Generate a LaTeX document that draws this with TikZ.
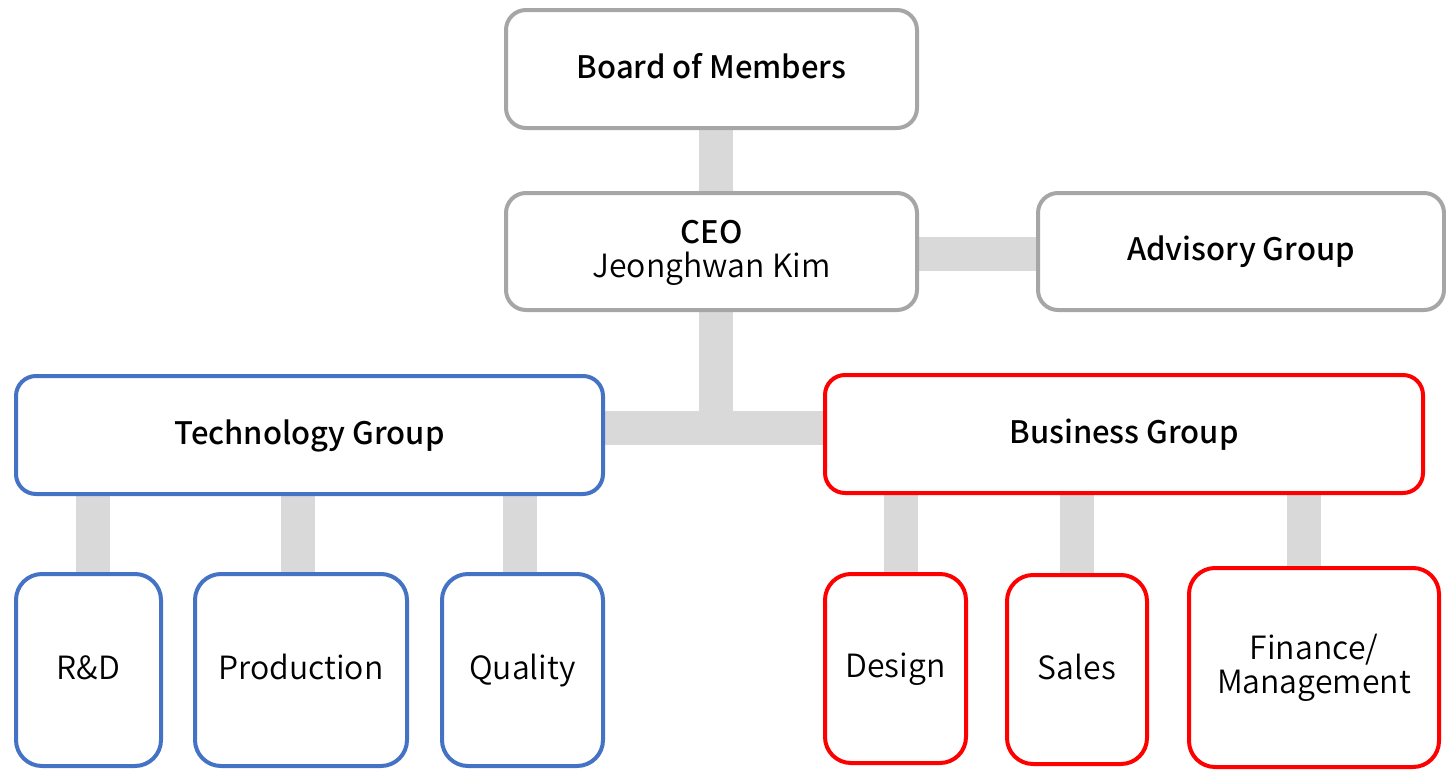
\documentclass[tikz,border=0pt]{standalone}
\usepackage{fontspec}
\setmainfont{Noto Sans CJK KR}
\newfontfamily\medfont{Noto Sans CJK KR Medium}
\newfontfamily\lightfont{Noto Sans CJK KR DemiLight}
\newcommand\mystrut{\vrule height 26pt depth 7pt width 0pt}
\usetikzlibrary{backgrounds}
\definecolor{graybd}{HTML}{A6A6A6}
\definecolor{bluebd}{HTML}{4472C4}
\definecolor{redbd}{HTML}{FF0000}
\definecolor{barcol}{HTML}{D9D9D9}
\tikzset{
  box/.style={draw, fill=white, line width=4pt, rounded corners=20pt, inner sep=0pt,
    align=center, font=\lightfont\fontsize{32}{34}\selectfont},
  headbox/.style={box, font=\medfont\fontsize{31}{34}\selectfont},
  kidbox/.style={box, rounded corners=26pt},
  bar/.style={draw=barcol, line width=34pt},
}
\begin{document}
\begin{tikzpicture}[x=1pt,y=-1pt]
\useasboundingbox (0,0) rectangle (1446,771);
% top level
\node[headbox, draw=graybd, minimum width=411, minimum height=118] (board) at (711.5,69) {\mystrut Board of Members};
\node[box, draw=graybd, minimum width=411, minimum height=117] (ceo) at (711.5,251.5) {\mystrut{\medfont\fontsize{31}{34}\selectfont CEO}\\\mystrut Jeonghwan Kim};
\node[headbox, draw=graybd, minimum width=406, minimum height=117] (adv) at (1241,251.5) {\mystrut Advisory Group};
% groups
\node[headbox, draw=bluebd, minimum width=587, minimum height=118] (tech) at (309.5,435) {\mystrut Technology Group};
\node[headbox, draw=redbd, minimum width=598, minimum height=118] (bus) at (1124,434) {\mystrut Business Group};
% children
\node[kidbox, draw=bluebd, minimum width=145, minimum height=192] (rd) at (88.5,670) {\mystrut R\&D};
\node[kidbox, draw=bluebd, minimum width=212, minimum height=192] (prod) at (301,670) {\mystrut Production};
\node[kidbox, draw=bluebd, minimum width=161, minimum height=192] (qual) at (522.5,670) {\mystrut Quality};
\node[kidbox, draw=redbd, minimum width=141, minimum height=189] (des) at (895.5,668.5) {\mystrut Design};
\node[kidbox, draw=redbd, minimum width=140, minimum height=189] (sales) at (1077,669.5) {\mystrut Sales};
\node[kidbox, draw=redbd, minimum width=250, minimum height=199] (fin) at (1314,667.5) {\mystrut Finance/\\\mystrut Management};
% connectors
\coordinate (j) at ([xshift=4.5pt, yshift=-116pt]ceo.south);
\begin{scope}[on background layer]
\draw[bar] ([xshift=4.5pt]board.south) -- ([xshift=4.5pt]ceo.north);
\draw[bar] ([yshift=-2.5pt]ceo.east) -- ([yshift=-2.5pt]ceo.east -| adv.west);
\draw[bar] ([xshift=4.5pt]ceo.south) -- (j);
\draw[bar] (tech.east |- j) -- (bus.west |- j);
\draw[bar] ([xshift=4.5pt]rd.north) -- ([xshift=4.5pt]rd.north |- tech.south);
\draw[bar] ([xshift=-3pt]prod.north) -- ([xshift=-3pt]prod.north |- tech.south);
\draw[bar] ([xshift=-2.5pt]qual.north) -- ([xshift=-2.5pt]qual.north |- tech.south);
\draw[bar] ([xshift=5.5pt]des.north) -- ([xshift=5.5pt]des.north |- bus.south);
\draw[bar] (sales.north) -- (sales.north |- bus.south);
\draw[bar] ([xshift=-10pt]fin.north) -- ([xshift=-10pt]fin.north |- bus.south);
\end{scope}
\end{tikzpicture}
\end{document}
